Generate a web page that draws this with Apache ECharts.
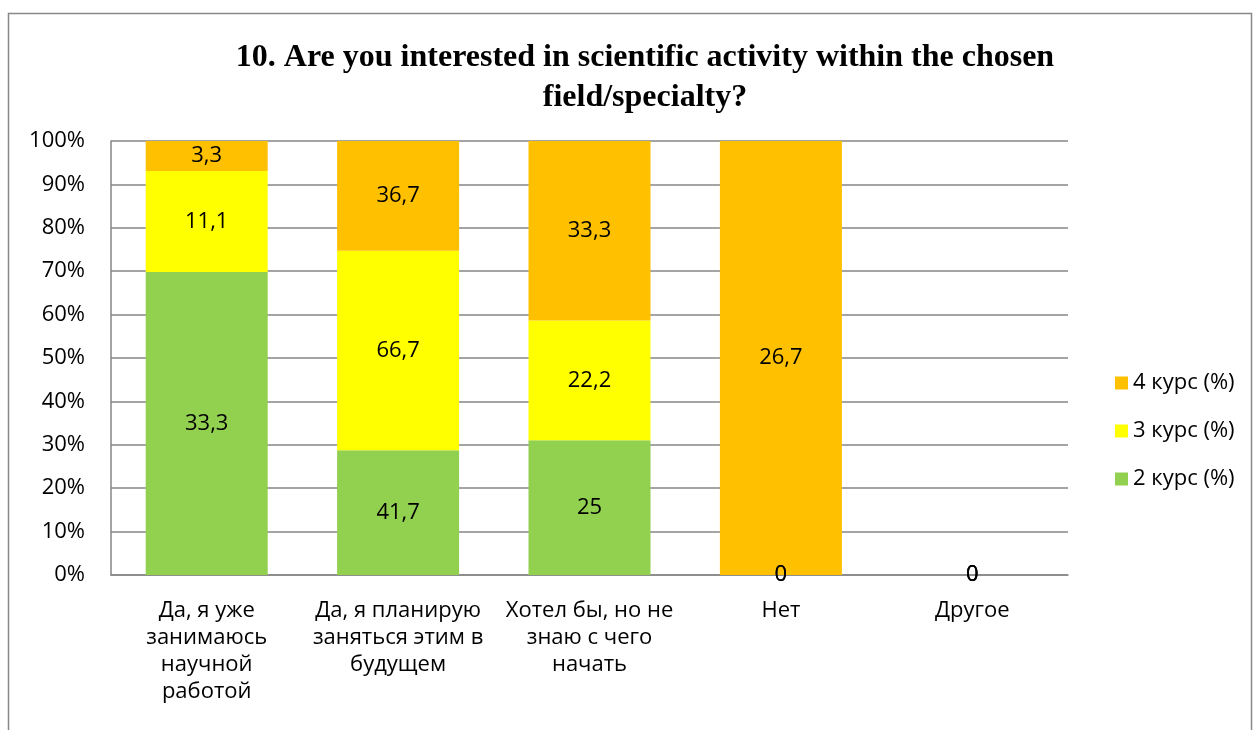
<!DOCTYPE html>
<html><head><meta charset="utf-8">
<script src="https://cdn.jsdelivr.net/npm/echarts@6/dist/echarts.min.js"></script>
<style>html,body{margin:0;padding:0;background:#fff}#c{width:1257px;height:730px}</style>
</head><body><div id="c"></div>
<script>
var categories = ['Да, я уже\nзанимаюсь\nнаучной\nработой', 'Да, я планирую\nзаняться этим в\nбудущем', 'Хотел бы, но не\nзнаю с чего\nначать', 'Нет', 'Другое'];
var seriesNames = ['2 курс (%)', '3 курс (%)', '4 курс (%)'];
var course2 = [33.3, 41.7, 25, 0, 0];
var course3 = [11.1, 66.7, 22.2, 0, 0];
var course4 = [3.3, 36.7, 33.3, 26.7, 0];
var yTicks = ['0%','10%','20%','30%','40%','50%','60%','70%','80%','90%','100%'];
var colors = ['#92D050', '#FFFF00', '#FFC000'];

var raw = [course2, course3, course4];
var totals = categories.map(function(_, i){ return course2[i] + course3[i] + course4[i]; });
var font = 'Open Sans';
var fs = 22;

var series = raw.map(function(arr, s){
  return {
    name: seriesNames[s], type: 'bar', stack: 'total', barWidth: 122,
    itemStyle: { color: colors[s] },
    data: arr.map(function(v, i){ return { value: totals[i] ? v / totals[i] * 100 : 0, raw: v }; }),
    label: { show: true, position: 'inside', color: '#000', fontSize: fs, fontFamily: font,
      formatter: function(p){ return String(p.data.raw).replace('.', ','); } },
    emphasis: { disabled: true }
  };
});

var chart = echarts.init(document.getElementById('c'), null, { renderer: 'canvas' });
chart.setOption({
  animation: false,
  title: { text: '10. Are you interested in scientific activity within the chosen\nfield/specialty?', left: 640, top: 33, textAlign: 'center',
    textStyle: { fontFamily: 'Liberation Serif', fontWeight: 'bold', fontSize: 32, lineHeight: 40, color: '#000' } },
  graphic: [{ type: 'rect', shape: { x: 8.5, y: 13.5, width: 1243, height: 760 }, style: { fill: 'none', stroke: '#888', lineWidth: 1.5 }, silent: true }],
  grid: { left: 111, right: 189, top: 141, bottom: 155, containLabel: false },
  legend: { orient: 'vertical', left: 1110, top: 366, itemWidth: 13, itemHeight: 13, itemGap: 24, icon: 'rect',
    data: ['4 курс (%)', '3 курс (%)', '2 курс (%)'],
    textStyle: { fontFamily: font, fontSize: fs, color: '#000', lineHeight: 24 } },
  xAxis: { type: 'category', data: categories,
    axisLine: { lineStyle: { color: '#868686', width: 1.5 } }, axisTick: { show: false },
    axisLabel: { interval: 0, margin: 22, fontFamily: font, fontSize: fs, lineHeight: 27, color: '#000' } },
  yAxis: { type: 'value', min: 0, max: 100, interval: 10,
    axisLine: { show: true, lineStyle: { color: '#868686', width: 1.5 } }, axisTick: { show: false },
    splitLine: { lineStyle: { color: '#868686', width: 1.5 } },
    axisLabel: { margin: 26, fontFamily: font, fontSize: fs, color: '#000',
      formatter: function(v){ return yTicks[Math.round(v / 10)]; } } },
  series: series
});
</script></body></html>
